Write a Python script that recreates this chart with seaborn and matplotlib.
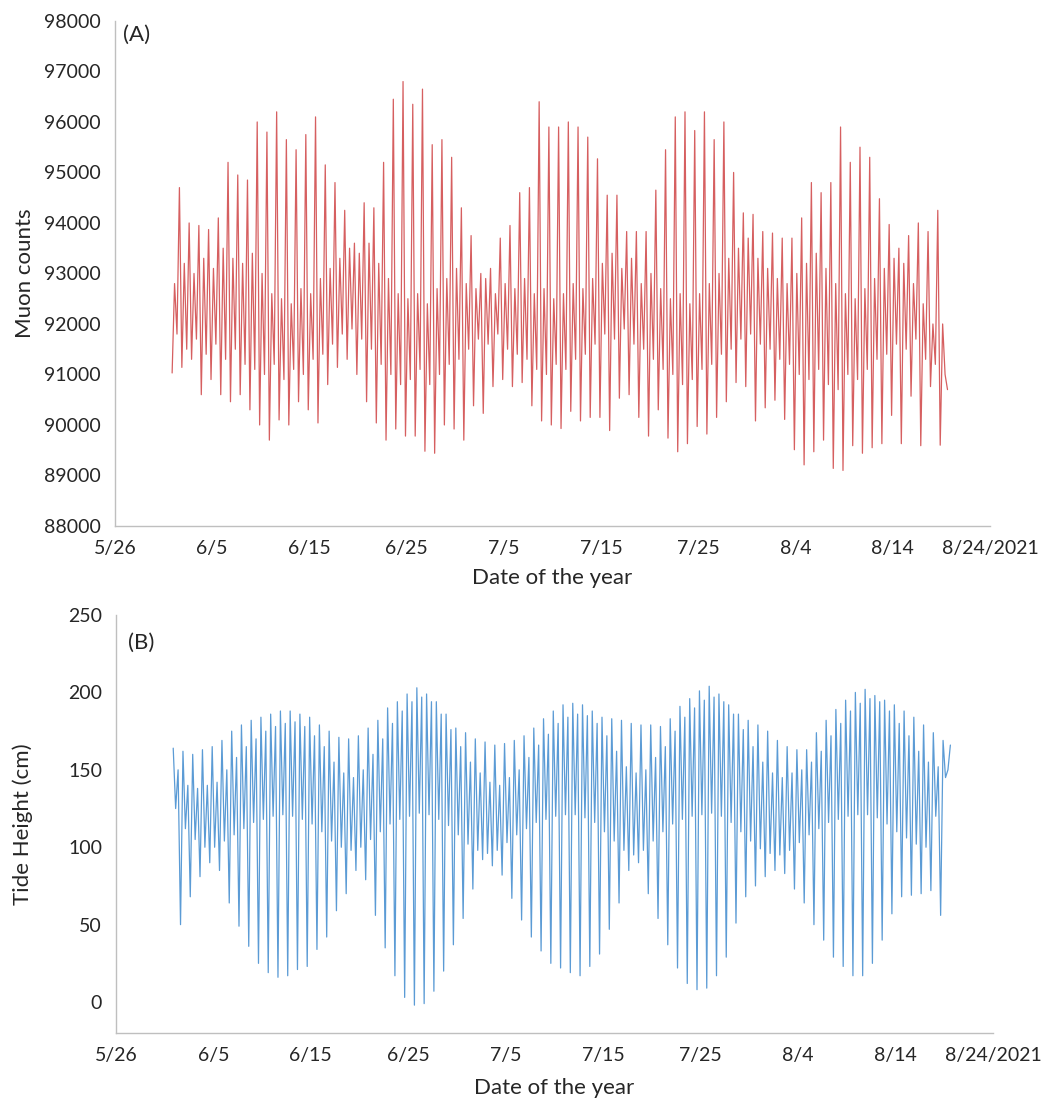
import numpy as np
import pandas as pd
import matplotlib
matplotlib.use("Agg")
import matplotlib.pyplot as plt
import seaborn as sns

# ---- Data (one value per tidal turn, 4 per day, 6/1 .. 8/19) ----
# Tide height (cm)
tide_hh = [164, 162, 160, 163, 165, 169, 175, 179, 182, 184,
           186, 188, 188, 186, 184, 179, 175, 171, 170, 172,
           177, 182, 190, 194, 199, 203, 199, 194, 186, 177,
           174, 170, 168, 166, 167, 169, 172, 177, 183, 188,
           192, 193, 192, 188, 184, 183, 182, 180, 179, 179,
           178, 183, 191, 196, 201, 204, 199, 192, 186, 182,
           179, 175, 169, 165, 163, 163, 174, 182, 189, 195,
           200, 202, 198, 195, 192, 188, 184, 179, 174, 169]
tide_hl = [125, 112, 105, 100, 100, 104, 108, 112, 116, 118,
           120, 121, 120, 118, 115, 110, 104, 100, 98, 100,
           105, 110, 115, 118, 120, 122, 121, 118, 114, 108,
           102, 98, 96, 98, 103, 108, 112, 116, 118, 120,
           121, 121, 119, 116, 110, 104, 98, 95, 98, 104,
           110, 115, 118, 120, 121, 122, 120, 116, 110, 104,
           99, 96, 95, 98, 103, 108, 112, 116, 118, 120,
           121, 121, 119, 115, 110, 106, 102, 100, 120, 145]
tide_lh = [150, 140, 138, 140, 142, 150, 158, 165, 170, 175,
           178, 180, 181, 178, 172, 165, 155, 148, 145, 150,
           160, 170, 180, 188, 194, 197, 194, 186, 176, 165,
           155, 148, 142, 140, 145, 150, 158, 166, 173, 180,
           184, 186, 185, 180, 172, 162, 152, 148, 150, 158,
           165, 175, 184, 190, 195, 197, 194, 186, 176, 165,
           155, 148, 145, 148, 150, 155, 162, 172, 180, 188,
           193, 196, 194, 188, 180, 172, 162, 155, 152, 150]
tide_ll = [50, 68, 81, 90, 85, 64, 49, 36, 25, 19,
           16, 17, 21, 23, 34, 42, 59, 70, 85, 79,
           56, 35, 17, 3, -2, -1, 7, 20, 37, 54,
           73, 92, 88, 82, 67, 53, 42, 33, 25, 22,
           19, 17, 23, 31, 47, 64, 85, 90, 70, 54,
           37, 22, 12, 8, 9, 17, 29, 51, 68, 75,
           81, 85, 83, 73, 64, 50, 40, 29, 23, 17,
           17, 25, 40, 57, 68, 69, 70, 72, 56, 166]

# Muon counts
muon_mh = [94700, 94000, 93950, 93870, 94100, 95200, 94950, 94850, 96000, 95800,
           96200, 95650, 95450, 95750, 96100, 95150, 94800, 94250, 93600, 94400,
           94300, 95200, 96450, 96800, 96350, 96650, 95550, 95650, 95300, 94300,
           93750, 93000, 93100, 93700, 93950, 94600, 94700, 96400, 95900, 95900,
           96000, 95900, 95700, 95270, 94550, 94550, 93830, 93830, 93830, 94650,
           95450, 96100, 96200, 95830, 96200, 95650, 96000, 95000, 94200, 94170,
           93830, 93800, 93700, 93700, 94100, 94800, 94600, 94800, 95900, 95200,
           95500, 95300, 94480, 93970, 93500, 93750, 94000, 93830, 94250, 90700]
muon_ml = [91030, 91140, 91300, 90600, 90900, 90600, 90460, 90600, 90300, 90000,
           89700, 90100, 90000, 90460, 90300, 90040, 90800, 91140, 91300, 91000,
           90460, 90040, 89700, 89920, 89780, 89780, 89480, 89440, 90000, 89920,
           89700, 90380, 90230, 90760, 90900, 90760, 90840, 90380, 90080, 90000,
           89930, 90270, 90080, 90150, 90150, 89890, 90530, 90600, 90150, 89780,
           90300, 89740, 89470, 89630, 89970, 89820, 90150, 90460, 90840, 90760,
           90080, 90340, 90490, 90110, 89510, 89210, 89470, 89700, 89140, 89100,
           89590, 89440, 89550, 89630, 90190, 89630, 90570, 89590, 90760, 89600]
muon_mh2 = [92800, 93200, 93000, 93300, 93100, 93500, 93300, 93200, 93400, 93000,
            92600, 92500, 92400, 92700, 92600, 92900, 93100, 93300, 93500, 93400,
            93600, 93200, 92900, 92600, 92500, 92600, 92400, 92700, 92900, 93100,
            92800, 92700, 92900, 92600, 92800, 92700, 92900, 92600, 92700, 92500,
            92600, 92800, 92700, 92900, 93200, 93400, 93100, 93300, 92800, 93000,
            92700, 92500, 92600, 92400, 92600, 92800, 93000, 93300, 93500, 93700,
            93300, 93100, 92900, 92800, 93000, 93200, 93400, 93100, 92800, 92600,
            92500, 92700, 92900, 93100, 93300, 93200, 92800, 92400, 92000, 92000]
muon_ml2 = [91800, 91500, 91700, 91400, 91600, 91300, 91500, 91200, 91100, 91000,
            91200, 90900, 91100, 91000, 91300, 91400, 91600, 91800, 91900, 91700,
            91500, 91200, 91000, 90800, 90900, 91100, 90800, 91000, 91200, 91300,
            91500, 91700, 91600, 91800, 91500, 91400, 91300, 91100, 91000, 91200,
            91100, 91300, 91400, 91600, 91800, 91700, 91900, 91600, 91500, 91300,
            91100, 91000, 90800, 90900, 91100, 91200, 91400, 91500, 91700, 91800,
            91600, 91500, 91300, 91200, 91000, 90900, 91100, 90800, 90700, 91000,
            90900, 91100, 91300, 91400, 91600, 91500, 91700, 91300, 91200, 91000]

x_tick_labels = ["5/26", "6/5", "6/15", "6/25", "7/5", "7/15", "7/25", "8/4", "8/14", "8/24/2021"]
muon_ticks = list(range(88000, 98001, 1000))
tide_ticks = [0, 50, 100, 150, 200, 250]

# ---- Build long tables ----
n_days = len(tide_hh)
times = pd.date_range("2021-05-31 21:00", periods=4 * n_days, freq="6h")
tide_vals = []
muon_vals = []
for i in range(n_days):
    tide_vals += [tide_hh[i], tide_hl[i], tide_lh[i], tide_ll[i]]
    muon_vals += [muon_ml[i], muon_mh2[i], muon_ml2[i], muon_mh[i]]
df_tide = pd.DataFrame({"time": times, "tide": tide_vals})
df_muon = pd.DataFrame({"time": times, "muon": muon_vals})

# ---- Style ----
sns.set_style("white")
plt.rcParams["font.family"] = ["Lato", "DejaVu Sans"]
text_col = "#262626"
spine_col = "#bfbfbf"

fig = plt.figure(figsize=(10.6, 11.02), dpi=100)
axA = fig.add_axes([0.1085, 0.5227, 0.8255, 0.4583])
axB = fig.add_axes([0.1094, 0.0626, 0.8274, 0.3793])

sns.lineplot(data=df_muon, x="time", y="muon", ax=axA, color="#d65f60",
             linewidth=0.9, estimator=None)
sns.lineplot(data=df_tide, x="time", y="tide", ax=axB, color="#5b9bd5",
             linewidth=0.9, estimator=None)

tick_dates = pd.date_range("2021-05-26", periods=len(x_tick_labels), freq="10D")
for ax in (axA, axB):
    ax.set_xlim(pd.Timestamp("2021-05-26"), pd.Timestamp("2021-08-24"))
    ax.set_xticks(tick_dates)
    ax.set_xticklabels(x_tick_labels)
    for s in ("top", "right"):
        ax.spines[s].set_visible(False)
    for s in ("left", "bottom"):
        ax.spines[s].set_color(spine_col)
        ax.spines[s].set_linewidth(1.0)
    ax.tick_params(axis="both", which="major", direction="out", length=4,
                   color=spine_col, labelsize=14, labelcolor=text_col)
    ax.tick_params(axis="x", pad=6)
    ax.tick_params(axis="y", pad=6)
    ax.set_xlabel("Date of the year", fontsize=16, color=text_col)
    ax.grid(False)

axA.set_ylim(88000, 98000)
axA.set_yticks(muon_ticks)
axA.set_ylabel("Muon counts", fontsize=16, color=text_col)
axA.yaxis.set_label_coords(-0.092, 0.5)
axA.xaxis.set_label_coords(0.5, -0.083)
axA.text(0.009, 0.972, "(A)", transform=axA.transAxes, fontsize=16,
         color=text_col, va="center", ha="left")

axB.set_ylim(-20, 250)
axB.set_yticks(tide_ticks)
axB.set_ylabel("Tide Height (cm)", fontsize=16, color=text_col)
axB.yaxis.set_label_coords(-0.095, 0.5)
axB.xaxis.set_label_coords(0.5, -0.108)
axB.text(0.014, 0.933, "(B)", transform=axB.transAxes, fontsize=16,
         color=text_col, va="center", ha="left")

fig.savefig("out.png", dpi=100)
